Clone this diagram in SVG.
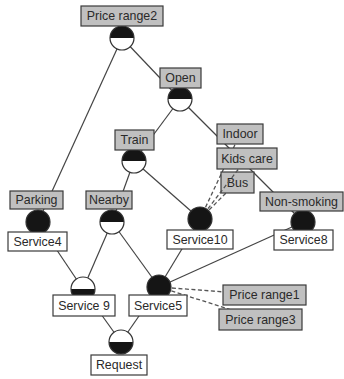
<svg xmlns="http://www.w3.org/2000/svg" xmlns:xlink="http://www.w3.org/1999/xlink" width="344" height="379" viewBox="0 0 344 379">
<style>
.g{fill:#c0c0c0;stroke:#3a3a3a;stroke-width:1.2}
.w{fill:#fff;stroke:#3a3a3a;stroke-width:1.2}
.t{font-family:"Liberation Sans",Arial,sans-serif;font-size:12.4px;fill:#2a2a2a;text-anchor:middle;dominant-baseline:central}
.e{stroke:#444;stroke-width:1.2;fill:none}
.d{stroke:#555;stroke-width:1.3;fill:none;stroke-dasharray:4,2.5}
</style>
<defs>
<g id="top"><circle r="12" fill="#fff"/><path d="M-12,0 A12,12 0 0 1 12,0 Z" fill="#151515"/><circle r="12" fill="none" stroke="#333" stroke-width="1.2"/></g>
<g id="bot"><circle r="12" fill="#fff"/><path d="M-12,0 A12,12 0 0 0 12,0 Z" fill="#151515"/><circle r="12" fill="none" stroke="#333" stroke-width="1.2"/></g>
<g id="full"><circle r="12" fill="#151515" stroke="#333" stroke-width="1.2"/></g>
</defs>
<rect width="344" height="379" fill="#fff"/>
<g id="connectors">
<line class="e" x1="122" y1="38" x2="180" y2="99"/>
<line class="e" x1="122" y1="38" x2="38" y2="222"/>
<line class="e" x1="180" y1="99" x2="134" y2="161"/>
<line class="e" x1="180" y1="99" x2="303" y2="222"/>
<line class="e" x1="134" y1="161" x2="112" y2="222"/>
<line class="e" x1="134" y1="161" x2="200" y2="219"/>
<line class="e" x1="38" y1="222" x2="83" y2="289"/>
<line class="e" x1="112" y1="222" x2="83" y2="289"/>
<line class="e" x1="112" y1="222" x2="159" y2="287"/>
<line class="e" x1="200" y1="219" x2="159" y2="287"/>
<line class="e" x1="303" y1="222" x2="159" y2="287"/>
<line class="e" x1="83" y1="289" x2="121" y2="342"/>
<line class="e" x1="159" y1="287" x2="121" y2="342"/>
<line class="d" x1="159" y1="287" x2="264" y2="295"/>
<line class="d" x1="159" y1="287" x2="260" y2="319"/>
<line class="d" x1="200" y1="219" x2="240" y2="134"/>
<line class="d" x1="200" y1="219" x2="237" y2="182"/>
</g>
<g id="bus"><rect class="g" x="221" y="172" width="33" height="21"/><text class="t" x="237.5" y="182.5">Bus</text></g>
<g id="connector-kids"><line class="d" x1="200" y1="219" x2="247" y2="158"/></g>
<g id="price2"><use xlink:href="#top" x="122" y="38"/><rect class="g" x="81" y="6" width="82" height="20"/><text class="t" x="122" y="16">Price range2</text></g>
<g id="open"><use xlink:href="#top" x="180" y="99"/><rect class="g" x="160" y="68" width="41" height="20"/><text class="t" x="180.5" y="78">Open</text></g>
<g id="train"><use xlink:href="#top" x="134" y="161"/><rect class="g" x="115" y="130" width="39" height="20"/><text class="t" x="134.5" y="140">Train</text></g>
<g id="indoor"><rect class="g" x="217" y="124" width="46" height="20"/><text class="t" x="240" y="134">Indoor</text></g>
<g id="kidscare"><rect class="g" x="217" y="148" width="60" height="21"/><text class="t" x="247" y="158.5">Kids care</text></g>
<g id="parking"><use xlink:href="#full" x="38" y="222"/><rect class="g" x="10" y="191" width="53" height="18"/><text class="t" x="36.5" y="200">Parking</text></g>
<g id="service4"><rect class="w" x="8" y="232" width="59" height="19"/><text class="t" x="37.5" y="241.5">Service4</text></g>
<g id="nearby"><use xlink:href="#top" x="112" y="222"/><rect class="g" x="86" y="191" width="46" height="18"/><text class="t" x="109" y="200">Nearby</text></g>
<g id="service10"><use xlink:href="#full" x="200" y="219"/><rect class="w" x="167" y="230" width="66" height="19"/><text class="t" x="200" y="239.5">Service10</text></g>
<g id="nonsmoking"><use xlink:href="#full" x="303" y="222"/><rect class="g" x="260" y="192" width="83" height="19"/><text class="t" x="301.5" y="201.5">Non-smoking</text></g>
<g id="service8"><rect class="w" x="274" y="230" width="59" height="20"/><text class="t" x="303.5" y="240">Service8</text></g>
<g id="service9"><use xlink:href="#bot" x="83" y="289"/><rect class="w" x="53" y="295" width="62" height="21"/><text class="t" x="84" y="305.5">Service 9</text></g>
<g id="service5"><use xlink:href="#full" x="159" y="287"/><rect class="w" x="129" y="295" width="58" height="21"/><text class="t" x="158" y="305.5">Service5</text></g>
<g id="request"><use xlink:href="#bot" x="121" y="342"/><rect class="w" x="91" y="355" width="56" height="20"/><text class="t" x="119" y="365">Request</text></g>
<g id="price1"><rect class="g" x="223" y="285" width="83" height="20"/><text class="t" x="264.5" y="295">Price range1</text></g>
<g id="price3"><rect class="g" x="219" y="309" width="83" height="21"/><text class="t" x="260.5" y="319.5">Price range3</text></g>
</svg>
